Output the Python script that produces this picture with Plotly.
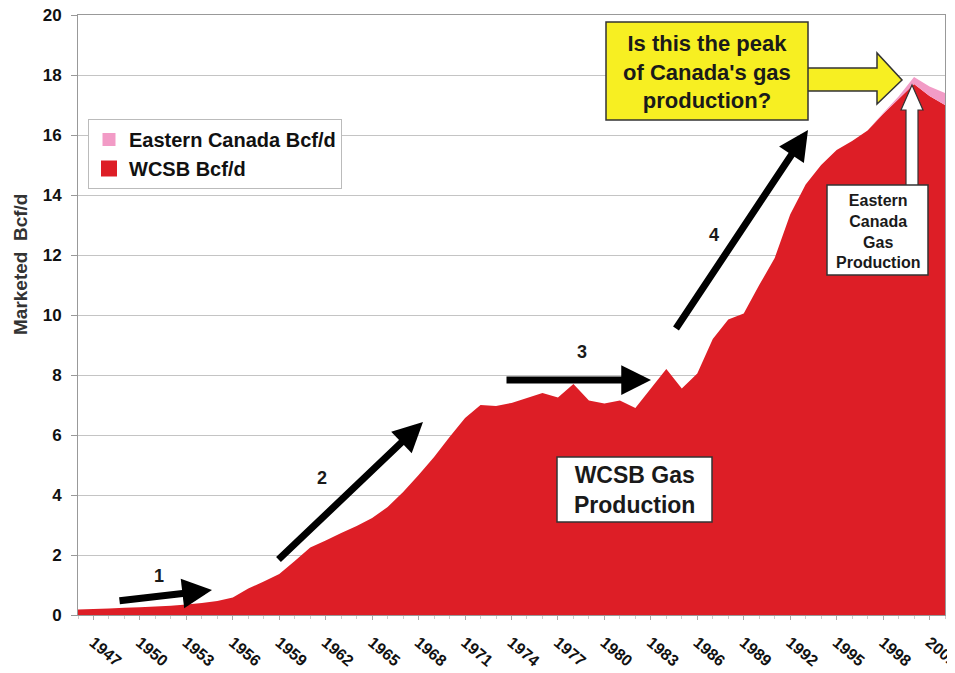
import plotly.graph_objects as go

# ---------------- data ----------------
years = list(range(1946, 2003))
wcsb_bcfd = [
    0.18, 0.20, 0.22, 0.24, 0.26, 0.28, 0.31, 0.35, 0.40, 0.47,   # 1946-1955
    0.58, 0.88, 1.12, 1.37, 1.80, 2.25, 2.48, 2.73, 2.97, 3.23,   # 1956-1965
    3.60, 4.10, 4.67, 5.27, 5.93, 6.57, 7.00, 6.97, 7.07, 7.23,   # 1966-1975
    7.40, 7.25, 7.70, 7.15, 7.05, 7.15, 6.90, 7.55, 8.20, 7.55,   # 1976-1985
    8.05, 9.20, 9.85, 10.05, 11.00, 11.90, 13.35, 14.35, 15.00, 15.50,  # 1986-1995
    15.80, 16.15, 16.70, 17.20, 17.70, 17.30, 17.00,              # 1996-2002
]
eastern_bcfd = [
    0, 0, 0, 0, 0, 0, 0, 0, 0, 0,
    0, 0, 0, 0, 0, 0, 0, 0, 0, 0,
    0, 0, 0, 0, 0, 0, 0, 0, 0, 0,
    0, 0, 0, 0, 0, 0, 0, 0, 0, 0,
    0, 0, 0, 0, 0, 0, 0, 0, 0, 0,
    0, 0, 0.03, 0.08, 0.23, 0.32, 0.40,
]
tick_years = list(range(1947, 2002, 3))
tick_labels = [str(y) for y in tick_years]

RED = "#DD1E26"
PINK = "#F29BC6"
YELLOW = "#F7EF22"
FONT = "Arial, Liberation Sans, sans-serif"

# page is rendered with the browser's default 8px body margin
PAGE_OFF = 8
W_PX, H_PX = 955 - PAGE_OFF, 673 - PAGE_OFF
# plot-area frame in page pixels (used only to place the decorations)
L, R, T, B = 78, 945, 15, 615


def PX(px):
    return (px - L) / (R - L)


def PY(py):
    return (B - py) / (B - T)


def poly(pts):
    return "M " + " L ".join(f"{PX(x):.5f},{PY(y):.5f}" for x, y in pts) + " Z"


fig = go.Figure()
fig.add_trace(go.Scatter(x=years, y=wcsb_bcfd, name="WCSB Bcf/d", stackgroup="one",
                         mode="none", fillcolor=RED, showlegend=False,
                         hovertemplate="%{x}: %{y} Bcf/d<extra>WCSB</extra>"))
fig.add_trace(go.Scatter(x=years, y=eastern_bcfd, name="Eastern Canada Bcf/d", stackgroup="one",
                         mode="none", fillcolor=PINK, showlegend=False,
                         hovertemplate="%{x}: %{y} Bcf/d<extra>Eastern Canada</extra>"))
# legend entries (square swatches like the original)
fig.add_trace(go.Scatter(x=[None], y=[None], mode="markers", name="WCSB Bcf/d",
                         marker=dict(symbol="square", size=16, color=RED)))
fig.add_trace(go.Scatter(x=[None], y=[None], mode="markers", name="Eastern Canada Bcf/d",
                         marker=dict(symbol="square", size=13, color=PINK)))

shapes = []
annotations = []


def box(x0, y0, x1, y1, fill):
    shapes.append(dict(type="rect", xref="paper", yref="paper", layer="above",
                       x0=PX(x0), x1=PX(x1), y0=PY(y1), y1=PY(y0),
                       fillcolor=fill, line=dict(color="#333333", width=1.5)))


def text(px, py, s, size, color="#1a1a1a", angle=0):
    annotations.append(dict(xref="paper", yref="paper", x=PX(px), y=PY(py), text=s,
                            showarrow=False, align="center", xanchor="center", yanchor="middle",
                            textangle=angle,
                            font=dict(family=FONT, size=size, color=color, weight="bold")))


# yellow block arrow + question box
shapes.append(dict(type="path", xref="paper", yref="paper", layer="above",
                   path=poly([(806, 68), (877, 68), (877, 53), (902, 80), (877, 104), (877, 91), (806, 91)]),
                   fillcolor=YELLOW, line=dict(color="#333333", width=1.5)))
box(606, 22, 808, 120, YELLOW)
text(707, 72, "Is this the peak<br>of Canada's gas<br>production?", 22)

# white up arrow + Eastern Canada box
shapes.append(dict(type="path", xref="paper", yref="paper", layer="above",
                   path=poly([(906, 186), (906, 110), (901, 110), (912, 85), (923, 110), (918, 110), (918, 186)]),
                   fillcolor="white", line=dict(color="#333333", width=1.2)))
box(827, 185, 928, 275, "white")
text(877.5, 231, "Eastern<br>Canada<br>Gas<br>Production", 16)

# WCSB box
box(557, 457, 712, 522, "white")
text(634.5, 490, "WCSB Gas<br>Production", 23)

# black trend arrows (tail -> tip) and their numbers
arrows = [((118, 601), (212, 590)), ((277, 561), (423, 422)),
          ((505, 380), (651, 380)), ((675, 330), (808, 130))]
for (tx, ty), (hx, hy) in arrows:
    annotations.append(dict(xref="paper", yref="paper", x=PX(hx), y=PY(hy),
                            ax=tx - hx, ay=ty - hy, axref="pixel", ayref="pixel",
                            text="", showarrow=True, arrowhead=2, arrowsize=0.85,
                            arrowwidth=7, arrowcolor="black", standoff=0))
for (px, py), s in zip([(159, 576), (322, 478), (582, 352), (714, 235)], ["1", "2", "3", "4"]):
    text(px, py, s, 18)

# y-axis title
text(20, 265, "Marketed  Bcf/d", 19, color="#333333", angle=-90)

fig.update_layout(
    width=W_PX, height=H_PX,
    margin=dict(l=L - PAGE_OFF, r=W_PX - (R - PAGE_OFF), t=T - PAGE_OFF, b=H_PX - (B - PAGE_OFF),
                autoexpand=False),
    paper_bgcolor="white", plot_bgcolor="white",
    font=dict(family=FONT, color="#111111"),
    shapes=shapes, annotations=annotations,
    showlegend=True,
    legend=dict(x=PX(88), y=PY(119), xanchor="left", yanchor="top",
                traceorder="reversed", bgcolor="white", bordercolor="#bbbbbb", borderwidth=1,
                itemwidth=30, tracegroupgap=0,
                font=dict(family=FONT, size=20, color="#111111", weight="bold")),
    xaxis=dict(range=[1946, 2002], tickvals=tick_years, ticktext=tick_labels,
               tickangle=40, ticks="outside", ticklen=4, tickcolor="#aaaaaa",
               ticklabelstandoff=7,
               minor=dict(dtick=1, ticks="outside", ticklen=3, tickcolor="#cccccc"),
               showgrid=False, showline=True, linecolor="#999999", mirror=True,
               ticklabeloverflow="allow", automargin=False,
               tickfont=dict(family=FONT, size=16, color="#111111", weight="bold"),
               zeroline=False),
    yaxis=dict(range=[0, 20], dtick=2, ticks="outside", ticklen=6, tickcolor="#999999",
               ticklabelstandoff=6, ticklabeloverflow="allow",
               showgrid=True, gridcolor="#c4c4c4", gridwidth=1,
               showline=True, linecolor="#999999", mirror=True, zeroline=False,
               automargin=False,
               tickfont=dict(family=FONT, size=17, color="#111111", weight="bold")),
)

fig.write_html("out.html")
